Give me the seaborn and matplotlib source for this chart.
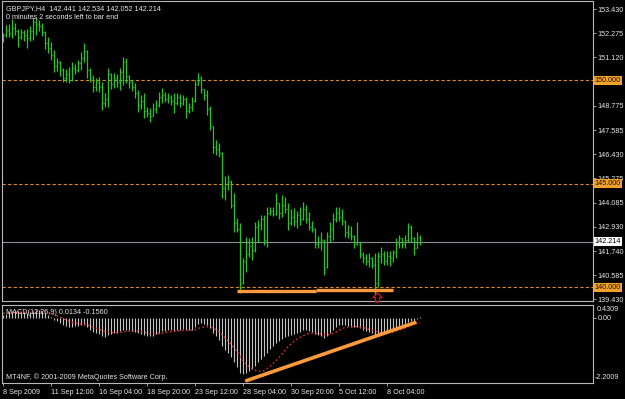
import numpy as np
import pandas as pd
import matplotlib
matplotlib.use("Agg")
import matplotlib.pyplot as plt
import matplotlib.transforms as mtransforms
from matplotlib.path import Path
import seaborn as sns

# ---------------- data ----------------
highs = [152.30, 152.67, 152.70, 152.96, 152.77, 152.50, 152.50, 152.45, 152.50, 152.60,
         153.05, 153.00, 152.90, 152.75, 152.40, 152.10, 151.85, 151.47, 151.10, 150.95,
         150.60, 150.55, 150.64, 150.88, 150.80, 151.00, 151.37, 151.80, 151.45, 150.60,
         150.25, 150.10, 150.15, 149.90, 149.40, 150.60, 150.35, 150.35, 150.30, 150.60,
         151.13, 151.08, 150.25, 150.00, 149.87, 149.53, 149.30, 149.38, 148.70, 148.66,
         148.90, 149.05, 149.43, 149.63, 149.45, 149.40, 149.30, 149.38, 149.40, 149.35,
         149.30, 149.20, 148.90, 149.20, 150.00, 150.35, 150.20, 149.60, 149.53, 148.75,
         147.80, 147.10, 146.95, 146.55, 145.40, 145.43, 145.19, 144.56, 143.35, 143.11,
         141.42, 142.43, 142.39, 142.43, 143.16, 143.26, 143.50, 143.50, 143.89, 143.89,
         143.90, 144.56, 144.10, 144.47, 144.37, 144.08, 143.80, 143.85, 143.70, 143.90,
         144.13, 144.00, 143.64, 143.20, 142.85, 142.50, 142.68, 142.35, 142.68, 143.16,
         143.60, 143.89, 143.90, 143.79, 143.25, 143.00, 142.95, 142.55, 143.16, 142.19,
         141.71, 141.60, 141.65, 141.47, 141.66, 141.71, 141.95, 141.75, 141.75, 141.75,
         141.81, 142.39, 142.53, 142.40, 142.53, 143.11, 143.00, 142.45, 142.68, 142.534]
lows = [151.85, 152.10, 152.10, 152.05, 152.19, 151.60, 152.00, 151.90, 151.55, 151.90,
        151.95, 152.20, 152.40, 152.15, 151.50, 151.30, 150.98, 150.40, 150.45, 150.20,
        149.90, 149.90, 149.86, 149.98, 150.30, 150.40, 150.50, 150.88, 150.10, 149.90,
        149.43, 149.50, 149.45, 148.56, 148.70, 148.70, 149.60, 149.63, 149.70, 149.53,
        149.77, 149.87, 149.63, 149.50, 149.15, 148.47, 148.60, 148.18, 148.22, 147.99,
        148.30, 148.42, 148.70, 148.90, 148.95, 148.90, 148.80, 148.42, 148.80, 148.70,
        148.80, 148.18, 148.40, 148.50, 148.95, 149.77, 149.40, 149.05, 148.32, 147.60,
        146.50, 146.40, 146.30, 144.30, 144.23, 144.70, 143.84, 142.68, 142.68, 139.73,
        140.15, 140.74, 141.47, 141.32, 141.71, 142.19, 142.77, 142.05, 141.95, 143.50,
        143.45, 143.50, 143.30, 143.40, 143.60, 142.77, 143.00, 142.95, 142.85, 143.00,
        143.26, 143.10, 142.77, 142.70, 141.90, 141.90, 141.81, 140.60, 140.94, 142.19,
        142.29, 143.16, 143.20, 143.00, 142.43, 142.40, 142.30, 141.90, 142.05, 141.42,
        141.18, 141.10, 141.00, 140.94, 139.63, 140.02, 141.18, 141.10, 141.10, 141.05,
        141.23, 141.42, 141.90, 141.90, 141.90, 142.19, 142.20, 141.57, 141.88, 142.052]
opens = [151.95, 152.20, 152.45, 152.30, 152.55, 152.40, 152.10, 152.35, 152.20, 152.05,
         152.40, 152.80, 152.70, 152.60, 152.35, 151.80, 151.55, 151.20, 150.70, 150.90,
         150.50, 150.10, 150.30, 150.00, 150.60, 150.50, 150.85, 151.10, 151.40, 150.50,
         150.10, 149.70, 149.90, 149.70, 148.90, 149.10, 150.30, 149.80, 150.10, 149.90,
         150.40, 150.90, 150.20, 149.90, 149.70, 149.40, 148.80, 149.00, 148.50, 148.40,
         148.30, 148.60, 148.80, 149.20, 149.30, 149.10, 149.20, 149.00, 148.90, 149.20,
         148.90, 149.10, 148.50, 148.70, 149.00, 149.80, 150.10, 149.60, 149.30, 148.60,
         147.80, 146.80, 146.70, 146.50, 144.80, 145.00, 145.10, 144.00, 143.10, 142.80,
         140.20, 141.30, 141.60, 142.00, 141.80, 142.90, 143.00, 143.30, 142.30, 143.60,
         143.70, 143.55, 144.10, 143.60, 144.00, 143.80, 143.10, 143.40, 143.20, 143.50,
         143.30, 143.80, 143.30, 142.90, 142.80, 142.10, 142.20, 142.30, 141.00, 142.50,
         142.80, 143.30, 143.60, 143.40, 143.20, 142.70, 142.60, 142.50, 142.10, 142.10,
         141.60, 141.40, 141.30, 141.40, 141.10, 140.20, 141.50, 141.60, 141.30, 141.50,
         141.40, 141.70, 142.10, 142.40, 142.10, 142.30, 142.90, 142.40, 141.90, 142.441]
closes = [152.20, 152.45, 152.30, 152.55, 152.40, 152.10, 152.35, 152.20, 152.05, 152.40,
          152.80, 152.70, 152.60, 152.35, 151.80, 151.55, 151.20, 150.70, 150.90, 150.50,
          150.10, 150.30, 150.00, 150.60, 150.50, 150.85, 151.10, 151.40, 150.50, 150.10,
          149.70, 149.90, 149.70, 148.90, 149.10, 150.30, 149.80, 150.10, 149.90, 150.40,
          150.90, 150.20, 149.90, 149.70, 149.40, 148.80, 149.00, 148.50, 148.40, 148.30,
          148.60, 148.80, 149.20, 149.30, 149.10, 149.20, 149.00, 148.90, 149.20, 148.90,
          149.10, 148.50, 148.70, 149.00, 149.80, 150.10, 149.60, 149.30, 148.60, 147.80,
          146.80, 146.70, 146.50, 144.80, 145.00, 145.10, 144.00, 143.10, 142.80, 140.20,
          141.30, 141.60, 142.00, 141.80, 142.90, 143.00, 143.30, 142.30, 143.60, 143.70,
          143.55, 144.10, 143.60, 144.00, 143.80, 143.10, 143.40, 143.20, 143.50, 143.30,
          143.80, 143.30, 142.90, 142.80, 142.10, 142.20, 142.30, 140.90, 142.50, 142.80,
          143.30, 143.60, 143.40, 143.20, 142.70, 142.60, 142.50, 142.10, 142.20, 141.60,
          141.40, 141.30, 141.40, 141.10, 140.20, 141.50, 141.60, 141.30, 141.50, 141.40,
          141.70, 142.10, 142.40, 142.10, 142.30, 142.90, 142.40, 141.90, 142.40, 142.214]

macd_hist = [0.10, 0.14, 0.18, 0.22, 0.24, 0.22, 0.20, 0.18, 0.16, 0.18,
             0.22, 0.26, 0.25, 0.22, 0.15, 0.08, 0.02, -0.06, -0.12, -0.18,
             -0.24, -0.28, -0.32, -0.30, -0.29, -0.27, -0.24, -0.24, -0.30, -0.40,
             -0.48, -0.52, -0.56, -0.62, -0.65, -0.58, -0.55, -0.52, -0.50, -0.46,
             -0.40, -0.40, -0.42, -0.45, -0.47, -0.52, -0.54, -0.58, -0.60, -0.62,
             -0.60, -0.56, -0.50, -0.46, -0.44, -0.42, -0.42, -0.43, -0.40, -0.40,
             -0.39, -0.42, -0.42, -0.40, -0.30, -0.20, -0.18, -0.20, -0.26, -0.36,
             -0.50, -0.62, -0.74, -0.95, -1.08, -1.18, -1.32, -1.50, -1.65, -1.85,
             -1.90, -1.86, -1.80, -1.74, -1.62, -1.50, -1.38, -1.30, -1.18, -1.05,
             -0.95, -0.84, -0.78, -0.70, -0.64, -0.62, -0.58, -0.55, -0.52, -0.48,
             -0.42, -0.42, -0.45, -0.48, -0.55, -0.58, -0.60, -0.68, -0.60, -0.50,
             -0.40, -0.30, -0.26, -0.24, -0.26, -0.28, -0.30, -0.32, -0.30, -0.34,
             -0.40, -0.44, -0.48, -0.52, -0.58, -0.55, -0.50, -0.50, -0.48, -0.46,
             -0.42, -0.36, -0.30, -0.26, -0.22, -0.15, -0.12, -0.10, -0.05, 0.0134]
macd_signal = [0.15, 0.15, 0.16, 0.17, 0.18, 0.19, 0.19, 0.19, 0.19, 0.19,
               0.19, 0.20, 0.21, 0.21, 0.20, 0.18, 0.15, 0.11, 0.07, 0.02,
               -0.03, -0.08, -0.12, -0.15, -0.18, -0.20, -0.21, -0.22, -0.24, -0.27,
               -0.31, -0.35, -0.39, -0.43, -0.47, -0.49, -0.50, -0.50, -0.50, -0.49,
               -0.48, -0.46, -0.45, -0.45, -0.45, -0.46, -0.47, -0.49, -0.51, -0.53,
               -0.54, -0.54, -0.53, -0.52, -0.50, -0.48, -0.47, -0.46, -0.45, -0.44,
               -0.43, -0.43, -0.42, -0.42, -0.40, -0.36, -0.33, -0.31, -0.30, -0.31,
               -0.35, -0.40, -0.47, -0.57, -0.67, -0.78, -0.89, -1.01, -1.14, -1.28,
               -1.45, -1.56, -1.65, -1.72, -1.77, -1.80, -1.80, -1.78, -1.72, -1.64,
               -1.55, -1.45, -1.34, -1.22, -1.10, -0.98, -0.88, -0.80, -0.72, -0.66,
               -0.60, -0.56, -0.53, -0.52, -0.52, -0.53, -0.55, -0.57, -0.58, -0.56,
               -0.53, -0.48, -0.42, -0.37, -0.33, -0.31, -0.30, -0.30, -0.30, -0.31,
               -0.33, -0.36, -0.39, -0.42, -0.45, -0.48, -0.50, -0.51, -0.51, -0.50,
               -0.48, -0.45, -0.42, -0.38, -0.34, -0.30, -0.26, -0.22, -0.19, -0.156]

date_labels = ["8 Sep 2009", "11 Sep 12:00", "16 Sep 04:00", "18 Sep 20:00", "23 Sep 12:00",
               "28 Sep 04:00", "30 Sep 20:00", "5 Oct 12:00", "8 Oct 04:00"]
date_label_bars = [0, 16, 32, 48, 64, 80, 96, 112, 128]
price_ticks = [153.430, 152.275, 151.120, 148.775, 147.585, 146.430,
               145.275, 144.085, 142.930, 141.740, 140.585, 139.430]
level_prices = [150.000, 145.000, 140.000]
bid_price = 142.214
support_x = [[78.0, 104.3], [104.3, 130.0]]
support_y = [[139.81, 139.81], [139.875, 139.875]]
macd_trend_x = [81.2, 137.3]
macd_trend_y = [-2.12, -0.165]
arrow_bar, arrow_price = 124.7, 139.54
macd_max, macd_min = 0.4309, -2.2009

# ---------------- style ----------------
sns.set_theme(style="dark", rc={"axes.facecolor": "black", "figure.facecolor": "black",
                                "savefig.facecolor": "black"})
plt.rcParams["font.family"] = ["Liberation Sans", "DejaVu Sans"]

GREEN = "#22c822"
FG = "#e6e6e6"
SPINE = "#b8b8b8"
FS = 5.2

fig = plt.figure(figsize=(6.25, 3.99), dpi=100)
ax = fig.add_axes([2 / 625, (399 - 301) / 399, 591 / 625, 300 / 399])
ax2 = fig.add_axes([2 / 625, (399 - 383) / 399, 591 / 625, 78 / 399])

n = len(closes)
x = np.arange(n)
xlim = (-1 / 3, 196.67)

# ---- price bars ----
ax.vlines(x, lows, highs, color=GREEN, lw=0.9)
ax.hlines(opens, x - 0.45, x, color=GREEN, lw=0.9)
ax.hlines(closes, x, x + 0.45, color=GREEN, lw=0.9)

for lv in level_prices:
    ax.axhline(lv, color="#d98a1e", lw=0.8, dashes=(3, 2), zorder=1)
ax.axhline(bid_price, color="#8a9098", lw=0.8, zorder=1)

for sx, sy in zip(support_x, support_y):
    ax.plot(sx, sy, color="#ff9a3c", lw=2.4, solid_capstyle="butt", zorder=4)

arrow_marker = Path([(0, 1), (1, 0), (0.45, 0), (0.45, -1), (-0.45, -1), (-0.45, 0),
                     (-1, 0), (0, 1)])
ax.plot([arrow_bar], [arrow_price], marker=arrow_marker, markersize=6.5,
        markerfacecolor="none", markeredgecolor="#c81818", markeredgewidth=0.9,
        linestyle="none", zorder=5, clip_on=False)

ax.set_xlim(*xlim)
ax.set_ylim(139.345, 153.83)
ax.set_xticks([])
ax.yaxis.tick_right()
ax.set_yticks(price_ticks)
ax.set_yticklabels([f"{p:.3f}" for p in price_ticks])
ax.tick_params(axis="y", which="both", right=True, left=False, direction="out", length=2,
               width=0.6, color=SPINE, labelcolor=FG, labelsize=FS, pad=1.5)
for s in ax.spines.values():
    s.set_visible(True)
    s.set_color(SPINE)
    s.set_linewidth(0.8)
ax.grid(False)

trans = mtransforms.blended_transform_factory(ax.transAxes, ax.transData)
for lv in level_prices:
    ax.text(1.003, lv, f"{lv:.3f}", transform=trans, ha="left", va="center", fontsize=FS,
            color="#1a1000", bbox=dict(facecolor="#f2a12a", edgecolor="none", pad=0.8),
            clip_on=False, zorder=6)
ax.text(1.003, bid_price, f"{bid_price:.3f}", transform=trans, ha="left", va="center",
        fontsize=FS, color="black", bbox=dict(facecolor="white", edgecolor="none", pad=0.8),
        clip_on=False, zorder=6)

ax.text(0.006, 0.985, "GBPJPY,H4  142.441 142.534 142.052 142.214", transform=ax.transAxes,
        ha="left", va="top", fontsize=FS, color=FG)
ax.text(0.006, 0.957, "0 minutes 2 seconds left to bar end", transform=ax.transAxes,
        ha="left", va="top", fontsize=FS, color=FG)

# ---- MACD panel ----
ax2.vlines(x, 0, macd_hist, color="#c4c4c4", lw=0.8)
sns.lineplot(x=x, y=macd_signal, ax=ax2, color="#e83030", lw=1.0,
             linestyle=(0, (1.2, 1.8)), legend=False)
ax2.plot(macd_trend_x, macd_trend_y, color="#ff9a3c", lw=2.6, solid_capstyle="round", zorder=4)

ax2.set_xlim(*xlim)
ax2.set_ylim(macd_min, macd_max)
ax2.yaxis.tick_right()
ax2.set_yticks([0])
ax2.set_yticklabels(["0.00"])
ax2.tick_params(axis="y", right=True, left=False, direction="out", length=2, width=0.6,
                color=SPINE, labelcolor=FG, labelsize=FS, pad=1.5)
ax2.set_xticks(date_label_bars)
ax2.set_xticklabels(date_labels, ha="left")
ax2.tick_params(axis="x", bottom=True, direction="out", length=2.5, width=0.6, color=SPINE,
                labelcolor=FG, labelsize=FS, pad=1.5)
ax2.set_xlabel("")
ax2.set_ylabel("")
for s in ax2.spines.values():
    s.set_visible(True)
    s.set_color(SPINE)
    s.set_linewidth(0.8)
ax2.grid(False)

ax2.text(1.006, 0.99, f"{macd_max:.4f}", transform=ax2.transAxes, ha="left", va="top",
         fontsize=FS, color=FG, clip_on=False)
ax2.text(1.003, 0.02, f"{macd_min:.4f}", transform=ax2.transAxes, ha="left", va="bottom",
         fontsize=FS, color=FG, clip_on=False)
ax2.text(0.006, 0.95, "MACD(12,26,9) 0.0134 -0.1560", transform=ax2.transAxes,
         ha="left", va="top", fontsize=FS, color=FG)
ax2.text(0.006, 0.03, "MT4NF, \u00a9 2001-2009 MetaQuotes Software Corp.",
         transform=ax2.transAxes, ha="left", va="bottom", fontsize=FS, color=FG)

fig.savefig("out.png", dpi=100, facecolor="black")
